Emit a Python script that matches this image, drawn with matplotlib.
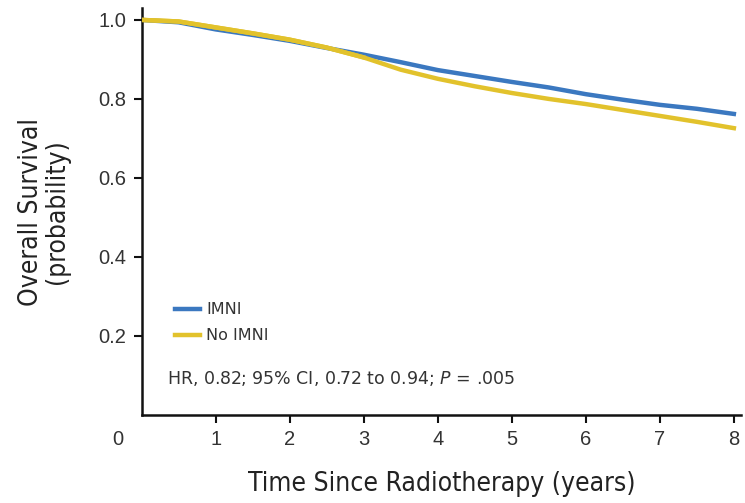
import numpy as np
import matplotlib.pyplot as plt

# Kaplan-Meier curves
years = [0, 0.5, 1, 1.5, 2, 2.5, 3, 3.5, 4, 4.5, 5, 5.5, 6, 6.5, 7, 7.5, 8]
imni = [1.0, 0.994, 0.976, 0.962, 0.947, 0.929, 0.912, 0.893, 0.873, 0.858,
        0.843, 0.829, 0.812, 0.798, 0.785, 0.775, 0.762]
no_imni = [1.0, 0.996, 0.981, 0.966, 0.950, 0.930, 0.905, 0.874, 0.851, 0.832,
           0.815, 0.800, 0.787, 0.772, 0.757, 0.742, 0.726]
xticks = [1, 2, 3, 4, 5, 6, 7, 8]
yticks = [0.2, 0.4, 0.6, 0.8, 1.0]

blue = '#3b78c0'
yellow = '#e2c22c'
plt.rcParams['font.family'] = ['Liberation Sans', 'DejaVu Sans']

fig = plt.figure(figsize=(7.45, 5.03), dpi=100)
ax = fig.add_axes([0.19, 0.175, 0.805, 0.809])

ax.plot(years, no_imni, color=yellow, lw=3.2, label='No IMNI', zorder=3)
ax.plot(years, imni, color=blue, lw=3.2, label='IMNI', zorder=2)
ax.plot(years[:7], no_imni[:7], color=yellow, lw=3.2, zorder=4)

ax.set_xlim(0, 8.1)
ax.set_ylim(0, 1.03)
ax.set_xticks(xticks)
ax.set_yticks(yticks)
ax.set_yticklabels(['%.1f' % v for v in yticks])

for s in ['top', 'right']:
    ax.spines[s].set_visible(False)
for s in ['left', 'bottom']:
    ax.spines[s].set_linewidth(1.8)
    ax.spines[s].set_color('#111111')
ax.tick_params(direction='out', length=6, width=1.5, colors='#111111',
               labelcolor='#333333', labelsize=14.5, pad=5)

# origin label sits left of the corner
ax.annotate('0', xy=(0, 0), xycoords='data', xytext=(-17, -11),
            textcoords='offset points', ha='center', va='top',
            fontsize=14.5, color='#333333')

ax.set_xlabel('Time Since Radiotherapy (years)', fontsize=19,
              family='DejaVu Sans', stretch='condensed',
              color='#222222', labelpad=16)
ax.set_ylabel('Overall Survival\n(probability)', fontsize=19,
              family='DejaVu Sans', stretch='condensed',
              color='#222222', labelpad=20, linespacing=1.0)

h, l = ax.get_legend_handles_labels()
leg = ax.legend(h[::-1], l[::-1], loc='lower left', bbox_to_anchor=(0.045, 0.16),
                frameon=False, prop={'family': 'DejaVu Sans', 'size': 11.5},
                handlelength=1.6, handletextpad=0.35, labelspacing=0.7,
                borderaxespad=0)
for t in leg.get_texts():
    t.set_color('#333333')

ax.text(0.043, 0.075, r'HR, 0.82; 95% CI, 0.72 to 0.94; $\it{P}$ = .005',
        transform=ax.transAxes, fontsize=12.5, family='DejaVu Sans',
        color='#333333')

fig.savefig('out.png', dpi=100)
